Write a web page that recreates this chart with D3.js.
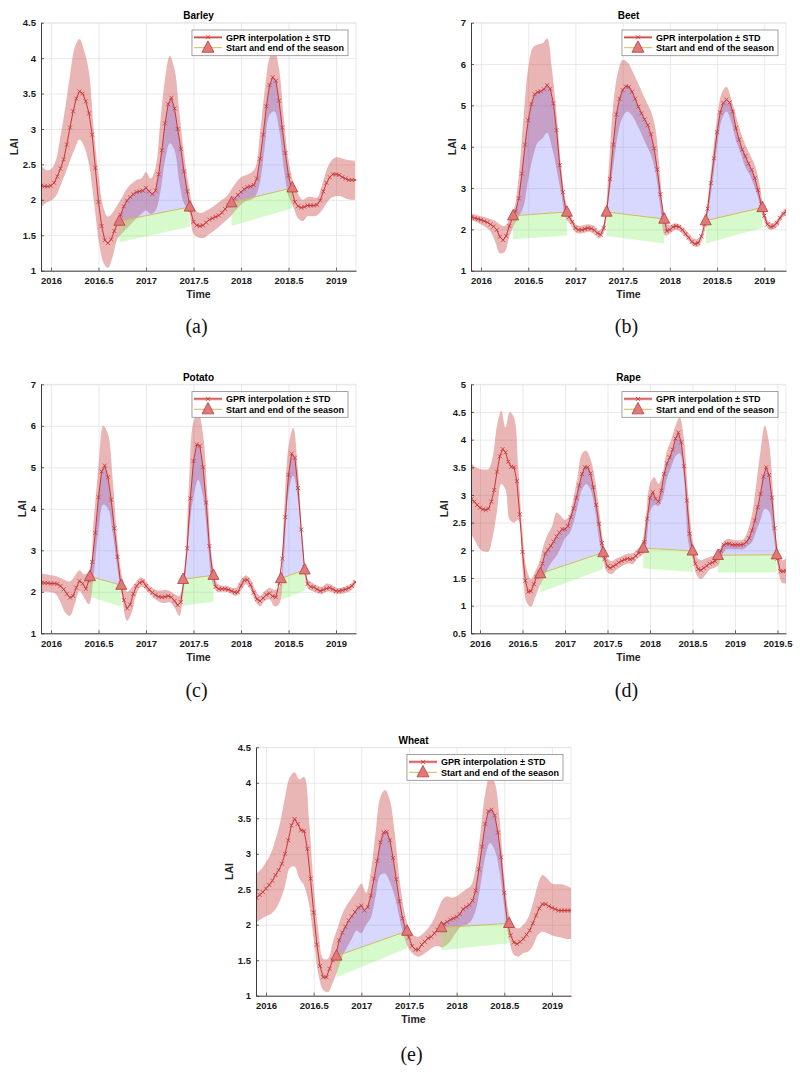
<!DOCTYPE html>
<html><head><meta charset="utf-8">
<script src="https://cdn.jsdelivr.net/npm/d3@7"></script>
<style>
body{margin:0;background:#fff}
svg{display:block}
text{font-family:"Liberation Sans",Arial,Helvetica,sans-serif}
</style>
</head><body>
<svg id="chart" width="800" height="1072"></svg>
<script>
// ---------------- DATA ----------------
const meanStart = 2015.9, meanStep = 1/30;   // GPR output every ~12 days
const bandStart = 2015.9, bandStep = 0.05;   // STD band samples
const crops = ["Barley","Beet","Potato","Rape","Wheat"];
const captions = ["(a)","(b)","(c)","(d)","(e)"];
const legendLabels = ["GPR interpolation \u00b1 STD","Start and end of the season"];
const xLims = [[2015.895,2019.21],[2015.894,2019.23],[2015.895,2019.21],[2015.894,2019.6],[2015.895,2019.2]];
const yLims = [[1,4.5],[1,7],[1,7],[0.5,5],[1,4.5]];
const xTicksStd = [2016,2016.5,2017,2017.5,2018,2018.5,2019];
const xTicksRape = [2016,2016.5,2017,2017.5,2018,2018.5,2019,2019.5];
const yTicksHalf = [1,1.5,2,2.5,3,3.5,4,4.5];
const yTicksInt = [1,2,3,4,5,6,7];
const yTicksRape = [0.5,1,1.5,2,2.5,3,3.5,4,4.5,5];

const barleyLAI = [2.20,2.19,2.19,2.20,2.24,2.33,2.44,2.57,2.78,3.02,
 3.25,3.43,3.53,3.50,3.39,3.22,2.92,2.45,1.97,1.63,
 1.43,1.39,1.44,1.56,1.67,1.79,1.91,1.99,2.04,2.08,
 2.11,2.12,2.13,2.17,2.12,2.08,2.13,2.36,2.70,3.08,
 3.35,3.44,3.29,3.00,2.72,2.40,2.12,1.86,1.69,1.64,
 1.63,1.64,1.68,1.72,1.74,1.76,1.78,1.82,1.87,1.92,
 1.97,2.02,2.07,2.11,2.15,2.18,2.19,2.21,2.30,2.58,
 2.92,3.32,3.62,3.73,3.68,3.40,3.02,2.66,2.34,2.15,
 1.97,1.91,1.89,1.90,1.92,1.92,1.92,1.93,1.99,2.12,
 2.24,2.32,2.36,2.36,2.35,2.32,2.30,2.28,2.28,2.28,2.28];
const barleyHi = [2.48,2.42,2.43,2.55,2.90,3.30,3.75,4.15,4.27,4.10,
 3.80,3.00,2.35,1.90,1.76,1.82,1.93,2.04,2.16,2.23,
 2.28,2.30,2.39,2.30,2.45,3.10,3.70,4.03,3.85,3.25,
 2.65,2.20,1.90,1.82,1.82,1.86,1.90,1.95,2.00,2.05,
 2.15,2.25,2.32,2.35,2.38,2.45,2.95,3.55,4.00,4.12,
 3.85,3.15,2.55,2.25,2.08,2.00,2.04,2.04,2.03,2.20,
 2.42,2.55,2.60,2.59,2.57,2.56,2.55];
const barleyLo = [1.90,1.96,1.99,2.05,2.20,2.37,2.55,2.72,2.85,2.75,
 2.50,2.00,1.45,1.12,1.04,1.20,1.45,1.53,1.60,1.67,
 1.74,1.80,1.85,1.80,1.85,2.10,2.55,2.80,2.70,2.25,
 1.95,1.85,1.52,1.47,1.46,1.50,1.55,1.60,1.66,1.72,
 1.78,1.86,1.93,1.98,2.00,2.05,2.25,2.75,3.20,3.25,
 3.00,2.45,2.05,1.90,1.74,1.70,1.77,1.77,1.78,1.85,
 1.95,2.03,2.05,2.05,2.02,2.00,2.00];
const barleySeasonT = [2016.72,2017.46,2017.90,2018.54];
const barleySeasonV = [1.70,1.90,1.96,2.17];
const barleySeasonLow = [1.40,1.62,1.63,1.88];

const beetLAI = [2.30,2.27,2.25,2.23,2.20,2.17,2.12,2.07,1.99,1.82,
 1.74,1.84,2.08,2.28,2.44,2.75,3.35,4.05,4.64,5.03,
 5.27,5.32,5.34,5.39,5.49,5.40,5.05,4.40,3.55,2.90,
 2.45,2.30,2.18,2.03,1.99,1.99,2.01,2.03,2.02,1.98,
 1.91,1.87,2.03,2.48,3.22,4.05,4.78,5.16,5.37,5.46,
 5.45,5.33,5.16,4.97,4.81,4.66,4.52,4.30,3.96,3.45,
 2.85,2.35,1.96,1.99,2.06,2.08,2.06,1.99,1.89,1.80,
 1.70,1.65,1.67,1.83,2.12,2.50,3.12,3.72,4.35,4.83,
 5.06,5.14,5.07,4.85,4.45,4.17,3.93,3.77,3.59,3.44,
 3.24,2.95,2.62,2.33,2.12,2.06,2.08,2.16,2.28,2.38,2.43];
const beetHi = [2.38,2.35,2.32,2.29,2.25,2.20,2.12,2.08,2.25,2.50,
 3.30,4.70,5.90,6.40,6.47,6.50,6.62,5.90,4.80,3.50,
 2.65,2.35,2.13,2.08,2.11,2.12,2.08,1.97,2.15,3.40,
 5.00,5.80,6.10,6.05,5.85,5.60,5.35,5.10,4.85,4.40,
 3.20,2.20,2.10,2.15,2.12,2.02,1.90,1.78,1.77,1.98,
 2.70,3.70,4.70,5.30,5.45,5.15,4.75,4.35,4.05,3.80,
 3.55,3.10,2.45,2.18,2.16,2.28,2.45,2.55];
const beetLo = [2.22,2.18,2.12,2.05,1.95,1.70,1.42,1.45,1.82,2.10,
 2.30,2.55,3.20,3.75,4.10,4.20,4.33,4.00,3.45,2.85,
 2.25,2.12,1.93,1.90,1.92,1.94,1.88,1.78,1.92,2.70,
 3.50,4.30,4.72,4.85,4.75,4.55,4.30,4.05,3.80,3.35,
 2.50,1.85,1.90,1.98,1.96,1.85,1.72,1.60,1.58,1.80,
 2.35,3.10,4.00,4.65,4.85,4.60,4.15,3.85,3.50,3.30,
 3.00,2.65,2.20,2.00,2.00,2.10,2.30,2.35];
const beetSeasonT = [2016.34,2016.91,2017.33,2017.94,2018.38,2018.98];
const beetSeasonV = [2.33,2.42,2.42,2.25,2.21,2.53];
const beetSeasonLow = [1.76,1.85,1.84,1.66,1.66,2.04];

const potatoLAI = [2.22,2.21,2.21,2.20,2.20,2.19,2.14,2.06,1.95,1.86,
 1.90,2.10,2.26,2.20,2.07,2.27,2.72,3.42,4.28,4.90,
 5.04,4.76,4.22,3.53,2.84,2.20,1.80,1.60,1.69,1.95,
 2.14,2.22,2.25,2.14,2.05,1.98,1.92,1.88,1.87,1.88,
 1.90,1.87,1.78,1.68,1.75,2.30,3.05,4.25,5.15,5.55,
 5.52,5.00,4.15,3.10,2.45,2.12,2.07,2.07,2.07,2.05,
 2.02,1.99,1.99,2.15,2.28,2.29,2.17,1.98,1.82,1.78,
 1.85,1.93,1.96,1.89,1.87,2.20,2.80,3.80,4.82,5.33,
 5.23,4.50,3.50,2.60,2.19,2.12,2.11,2.06,2.02,2.05,
 2.08,2.10,2.06,2.02,2.02,2.04,2.06,2.09,2.14,2.23,2.27];
const potatoHi = [2.45,2.42,2.40,2.38,2.33,2.28,2.25,2.38,2.52,2.42,
 2.50,3.75,5.00,6.00,5.80,4.70,3.20,2.35,2.00,2.10,
 2.25,2.35,2.25,2.12,2.05,2.03,2.05,2.02,1.95,1.90,
 2.45,4.50,6.10,6.30,5.80,4.20,2.70,2.20,2.15,2.14,
 2.10,2.10,2.30,2.40,2.30,2.05,1.90,2.02,2.10,2.05,
 2.10,3.80,5.50,5.95,4.90,3.20,2.30,2.22,2.15,2.12,
 2.20,2.17,2.10,2.10,2.13,2.18,2.30];
const potatoLo = [2.00,2.00,1.99,1.95,1.75,1.50,1.42,1.70,2.02,1.85,
 1.70,2.40,3.50,4.10,4.00,3.40,2.55,1.85,1.30,1.50,
 1.95,2.12,2.05,1.93,1.82,1.75,1.73,1.75,1.62,1.42,
 2.10,3.40,4.30,4.70,4.30,3.20,2.20,2.00,2.00,2.00,
 1.95,1.90,2.03,2.18,2.05,1.78,1.65,1.78,1.82,1.65,
 1.70,2.75,4.40,4.80,4.20,2.90,2.10,2.02,1.98,1.94,
 2.00,2.00,1.95,1.95,1.98,2.02,2.15];
const potatoSeasonT = [2016.41,2016.74,2017.39,2017.71,2018.42,2018.67];
const potatoSeasonV = [2.37,2.16,2.30,2.40,2.32,2.53];
const potatoSeasonLow = [1.88,1.64,1.67,1.76,1.80,2.03];

const rapeLAI = [2.92,2.88,2.82,2.77,2.74,2.73,2.75,2.88,3.09,3.42,
 3.70,3.83,3.77,3.60,3.51,3.50,3.25,2.65,1.97,1.45,
 1.25,1.26,1.39,1.52,1.60,1.76,1.94,2.01,2.08,2.16,
 2.25,2.32,2.38,2.38,2.44,2.60,2.76,2.95,3.17,3.38,
 3.50,3.50,3.39,3.14,2.82,2.48,2.13,1.84,1.71,1.68,
 1.71,1.74,1.78,1.81,1.83,1.85,1.84,1.85,1.90,1.95,
 1.98,2.15,2.57,2.95,3.05,2.93,2.88,3.08,3.38,3.57,
 3.68,3.82,4.02,4.13,3.95,3.52,2.90,2.30,1.98,1.76,
 1.66,1.64,1.68,1.72,1.76,1.78,1.80,1.87,1.99,2.10,
 2.12,2.12,2.10,2.10,2.10,2.10,2.11,2.15,2.22,2.36,
 2.54,2.78,3.02,3.33,3.50,3.36,2.95,2.40,1.85,1.62,1.62,1.63];
const rapeHi = [3.57,3.50,3.47,3.46,3.47,3.70,4.25,4.52,4.22,4.50,
 4.40,3.50,2.30,1.65,1.48,1.62,1.80,2.10,2.30,2.45,
 2.68,2.62,2.55,2.62,2.95,3.35,3.75,3.80,3.65,3.30,
 2.75,2.15,1.85,1.80,1.85,1.88,1.92,1.94,1.95,2.02,
 2.10,2.60,3.20,3.32,3.20,3.40,3.80,4.00,4.25,4.40,
 4.00,3.00,2.20,1.88,1.82,1.85,1.88,1.90,1.95,2.12,
 2.20,2.20,2.18,2.18,2.20,2.35,2.65,3.20,3.80,4.25,
 3.95,3.00,2.05,1.82,1.85];
const rapeLo = [2.28,2.15,2.02,1.98,1.98,2.25,2.70,3.20,3.10,2.55,
 2.50,2.55,1.70,1.05,0.98,1.15,1.35,1.50,1.68,1.80,
 1.90,2.05,2.22,2.30,2.50,2.80,3.10,3.20,3.10,2.75,
 2.20,1.80,1.60,1.57,1.64,1.70,1.74,1.76,1.75,1.85,
 1.90,2.05,2.70,2.82,2.80,2.95,3.30,3.50,3.70,3.75,
 3.30,2.15,1.85,1.55,1.48,1.55,1.65,1.68,1.72,1.92,
 2.02,2.02,2.02,2.02,2.02,2.08,2.15,2.35,2.55,2.75,
 2.70,2.30,1.75,1.42,1.40];
const rapeSeasonT = [2016.71,2017.45,2017.92,2018.50,2018.80,2019.49];
const rapeSeasonV = [1.58,1.96,2.04,1.99,1.91,1.92];
const rapeSeasonLow = [1.24,1.66,1.67,1.61,1.60,1.60];

const wheatLAI = [2.38,2.42,2.46,2.51,2.56,2.62,2.70,2.77,2.86,3.00,
 3.19,3.40,3.49,3.42,3.33,3.32,3.07,2.65,2.17,1.72,
 1.42,1.26,1.26,1.38,1.50,1.57,1.78,1.89,1.97,2.06,
 2.12,2.18,2.24,2.27,2.20,2.25,2.41,2.65,2.90,3.16,
 3.30,3.31,3.19,2.94,2.64,2.33,2.09,1.93,1.82,1.70,
 1.65,1.65,1.72,1.76,1.81,1.83,1.88,1.93,1.97,2.01,
 2.04,2.07,2.09,2.11,2.15,2.22,2.25,2.28,2.34,2.48,
 2.78,3.10,3.42,3.60,3.62,3.54,3.30,2.95,2.45,2.02,
 1.85,1.75,1.73,1.76,1.80,1.86,1.92,2.02,2.13,2.23,
 2.29,2.29,2.26,2.24,2.22,2.20,2.20,2.20,2.20,2.20];
const wheatHi = [2.72,2.78,2.88,3.00,3.20,3.45,3.80,4.08,4.15,4.05,
 4.08,3.50,2.55,1.90,1.52,1.52,1.75,1.95,2.15,2.28,
 2.38,2.48,2.58,2.45,2.75,3.30,3.80,3.90,3.75,3.30,
 2.65,2.20,1.95,1.85,1.83,1.88,1.95,2.05,2.20,2.35,
 2.40,2.38,2.40,2.45,2.50,2.55,2.80,3.30,3.85,4.10,
 4.00,3.50,2.65,2.15,1.98,1.95,2.00,2.10,2.30,2.55,
 2.70,2.65,2.58,2.57,2.57,2.55,2.52];
const wheatLo = [2.03,2.08,2.12,2.15,2.22,2.35,2.55,2.80,2.82,2.65,
 2.55,2.30,1.80,1.30,1.08,1.05,1.18,1.35,1.55,1.68,
 1.80,1.92,1.88,2.00,2.10,2.40,2.70,2.72,2.60,2.40,
 2.10,1.82,1.66,1.58,1.55,1.58,1.63,1.68,1.70,1.68,
 1.72,1.80,1.90,1.98,2.00,2.05,2.20,2.55,2.95,3.15,
 3.05,2.75,2.25,1.80,1.58,1.55,1.60,1.62,1.70,1.85,
 1.90,1.88,1.85,1.83,1.82,1.80,1.80];
const wheatSeasonT = [2016.74,2017.48,2017.84,2018.55];
const wheatSeasonV = [1.56,1.91,1.96,2.02];
const wheatSeasonLow = [1.26,1.67,1.64,1.74];

// ---------------- LAYOUT / STYLE ----------------
const layout = [
  {x0:41,  x1:356, y0:22.7,  y1:270.7, capY:333},
  {x0:471, x1:786, y0:22.7,  y1:270.7, capY:333},
  {x0:41,  x1:356, y0:384.3, y1:633.3, capY:697},
  {x0:471, x1:786, y0:384.3, y1:633.3, capY:697},
  {x0:256, x1:571, y0:747.3, y1:995.7, capY:1061}
];
const panels = [
  {lai:barleyLAI, hi:barleyHi, lo:barleyLo, sT:barleySeasonT, sV:barleySeasonV, sLow:barleySeasonLow, xt:xTicksStd, yt:yTicksHalf},
  {lai:beetLAI,   hi:beetHi,   lo:beetLo,   sT:beetSeasonT,   sV:beetSeasonV,   sLow:beetSeasonLow,   xt:xTicksStd, yt:yTicksInt},
  {lai:potatoLAI, hi:potatoHi, lo:potatoLo, sT:potatoSeasonT, sV:potatoSeasonV, sLow:potatoSeasonLow, xt:xTicksStd, yt:yTicksInt},
  {lai:rapeLAI,   hi:rapeHi,   lo:rapeLo,   sT:rapeSeasonT,   sV:rapeSeasonV,   sLow:rapeSeasonLow,   xt:xTicksRape, yt:yTicksRape},
  {lai:wheatLAI,  hi:wheatHi,  lo:wheatLo,  sT:wheatSeasonT,  sV:wheatSeasonV,  sLow:wheatSeasonLow,  xt:xTicksStd, yt:yTicksHalf}
];

const C = {
  band: "rgba(200,70,70,0.40)",
  blue: "rgba(100,100,255,0.25)",
  green: "rgba(130,240,100,0.32)",
  season: "#d2bb5c",
  line: "#c93636",
  triFill: "#e07a7a",
  triStroke: "#b83a3a",
  axis: "#262626",
  grid: "#e3e3e3"
};

const svg = d3.select("#chart");
const defs = svg.append("defs");

function triPath(cx, cy, s){
  const h = s*0.95;
  return `M${cx},${cy-h*0.6}L${cx+s/2},${cy+h*0.4}L${cx-s/2},${cy+h*0.4}Z`;
}
function xPath(cx, cy, r){
  return `M${cx-r},${cy-r}L${cx+r},${cy+r}M${cx-r},${cy+r}L${cx+r},${cy-r}`;
}

panels.forEach((P, i) => {
  const L = layout[i];
  const x = d3.scaleLinear().domain(xLims[i]).range([L.x0, L.x1]);
  const y = d3.scaleLinear().domain(yLims[i]).range([L.y1, L.y0]);
  const g = svg.append("g");
  const W = L.x1 - L.x0, H = L.y1 - L.y0;
  const poly = d3.line().x(d => x(d[0])).y(d => y(d[1]));

  const cid = "clip" + i;
  defs.append("clipPath").attr("id", cid).append("rect")
    .attr("x", L.x0).attr("y", L.y0).attr("width", W).attr("height", H);

  // grid
  const gxg = g.append("g").attr("transform", `translate(0,${L.y1})`)
    .call(d3.axisBottom(x).tickValues(P.xt).tickSize(-H).tickFormat(""));
  gxg.select(".domain").remove();
  gxg.selectAll("line").attr("stroke", C.grid).attr("stroke-width", 0.8);
  const gyg = g.append("g").attr("transform", `translate(${L.x0},0)`)
    .call(d3.axisLeft(y).tickValues(P.yt).tickSize(-W).tickFormat(""));
  gyg.select(".domain").remove();
  gyg.selectAll("line").attr("stroke", C.grid).attr("stroke-width", 0.8);
  g.append("line").attr("x1", L.x1).attr("x2", L.x1).attr("y1", L.y0).attr("y2", L.y1)
    .attr("stroke", C.grid).attr("stroke-width", 0.8);
  g.append("line").attr("x1", L.x0).attr("x2", L.x1).attr("y1", L.y0).attr("y2", L.y0)
    .attr("stroke", C.grid).attr("stroke-width", 0.8);

  const dl = g.append("g").attr("clip-path", `url(#${cid})`);

  // STD band
  const bandPts = P.hi.map((v, k) => ({t: bandStart + k*bandStep, hi: v, lo: P.lo[k]}));
  dl.append("path").datum(bandPts)
    .attr("d", d3.area().x(d => x(d.t)).y0(d => y(d.lo)).y1(d => y(d.hi))
      .curve(d3.curveCatmullRom.alpha(0.5)))
    .attr("fill", C.band);

  const meanPts = P.lai.map((v, k) => [meanStart + k*meanStep, v]);

  // seasons: green area under the start-end line, blue area between line and GPR curve
  for (let s = 0; s < P.sT.length; s += 2) {
    const ts = P.sT[s], te = P.sT[s+1], vs = P.sV[s], ve = P.sV[s+1];
    const gl = [[ts, vs], [te, ve], [te, P.sLow[s+1]], [ts, P.sLow[s]]];
    dl.append("path").attr("d", poly(gl) + "Z").attr("fill", C.green);
    const bl = [[ts, vs]].concat(meanPts.filter(p => p[0] > ts && p[0] < te)).concat([[te, ve]]);
    dl.append("path").attr("d", poly(bl) + "Z").attr("fill", C.blue);
    dl.append("path").attr("d", poly([[ts, vs], [te, ve]]))
      .attr("stroke", C.season).attr("stroke-width", 1).attr("fill", "none");
  }

  // mean line + markers
  dl.append("path").attr("d", poly(meanPts))
    .attr("fill", "none").attr("stroke", C.line).attr("stroke-width", 1);
  dl.append("g").selectAll("path").data(meanPts).join("path")
    .attr("d", d => xPath(x(d[0]), y(d[1]), 2))
    .attr("stroke", C.line).attr("stroke-width", 0.8).attr("fill", "none");

  // season triangles
  g.append("g").selectAll("path").data(P.sT.map((t, k) => [t, P.sV[k]])).join("path")
    .attr("d", d => triPath(x(d[0]), y(d[1]), 11))
    .attr("fill", C.triFill).attr("stroke", C.triStroke).attr("stroke-width", 0.8);

  // axes
  const ax = g.append("g").attr("transform", `translate(0,${L.y1})`)
    .call(d3.axisBottom(x).tickValues(P.xt).tickSize(-3).tickSizeOuter(0).tickPadding(7).tickFormat(d => String(d)));
  const ay = g.append("g").attr("transform", `translate(${L.x0},0)`)
    .call(d3.axisLeft(y).tickValues(P.yt).tickSize(-3).tickSizeOuter(0).tickPadding(5).tickFormat(d => String(d)));
  [ax, ay].forEach(a => {
    a.attr("font-family", null).attr("font-size", null);
    a.select(".domain").attr("stroke", C.axis).attr("stroke-width", 0.9);
    a.selectAll(".tick line").attr("stroke", C.axis).attr("stroke-width", 0.7);
    a.selectAll(".tick text").attr("fill", "#1a1a1a").attr("font-size", "9.5px").attr("font-weight", "bold");
  });
  ax.selectAll(".tick text").attr("dy", "0.71em");
  let maxW = 0;
  ay.selectAll(".tick text").each(function(){ maxW = Math.max(maxW, this.getComputedTextLength()); });

  // labels
  g.append("text").attr("x", (L.x0 + L.x1)/2).attr("y", L.y0 - 3.5)
    .attr("text-anchor", "middle").attr("font-size", "10px").attr("font-weight", "bold")
    .attr("fill", "#000").text(crops[i]);
  g.append("text").attr("x", (L.x0 + L.x1)/2).attr("y", L.y1 + 27.5)
    .attr("text-anchor", "middle").attr("font-size", "10.5px").attr("font-weight", "bold")
    .attr("fill", C.axis).text("Time");
  const lx = L.x0 - 5 - maxW - 5;
  g.append("text").attr("transform", `translate(${lx},${(L.y0 + L.y1)/2}) rotate(-90)`)
    .attr("text-anchor", "middle").attr("font-size", "10.5px").attr("font-weight", "bold")
    .attr("fill", C.axis).text("LAI");

  // caption
  svg.append("text").attr("x", (L.x0 + L.x1)/2 - 2).attr("y", L.capY)
    .attr("text-anchor", "middle")
    .style("font-family", '"Liberation Serif","DejaVu Serif",serif').attr("font-size", "20px")
    .attr("fill", "#111").text(captions[i]);

  // legend
  const lg = g.append("g");
  const t1 = lg.append("text").attr("x", 34).attr("y", 10.6).attr("font-size", "9px").attr("font-weight", "bold")
    .attr("fill", "#000").text(legendLabels[0]);
  const t2 = lg.append("text").attr("x", 34).attr("y", 21.2).attr("font-size", "9px").attr("font-weight", "bold")
    .attr("fill", "#000").text(legendLabels[1]);
  const lw = 34 + Math.max(t1.node().getComputedTextLength(), t2.node().getComputedTextLength()) + 4;
  const lh = 25.7;
  lg.insert("rect", "text").attr("x", 0).attr("y", 0).attr("width", lw).attr("height", lh)
    .attr("fill", "#fff").attr("stroke", "#8a8a8a").attr("stroke-width", 0.8);
  lg.append("line").attr("x1", 2).attr("x2", 30).attr("y1", 7.3).attr("y2", 7.3)
    .attr("stroke", C.band).attr("stroke-width", 3);
  lg.append("line").attr("x1", 2).attr("x2", 30).attr("y1", 7.3).attr("y2", 7.3)
    .attr("stroke", C.line).attr("stroke-width", 1);
  lg.append("path").attr("d", xPath(16, 7.3, 2)).attr("stroke", C.line).attr("stroke-width", 0.8);
  lg.append("line").attr("x1", 2).attr("x2", 30).attr("y1", 17.7).attr("y2", 17.7)
    .attr("stroke", C.season).attr("stroke-width", 1);
  lg.append("path").attr("d", triPath(16, 17.7, 12))
    .attr("fill", C.triFill).attr("stroke", C.triStroke).attr("stroke-width", 0.8);
  lg.attr("transform", `translate(${L.x1 - 8 - lw},${L.y0 + 7.3})`);
});
</script>
</body></html>
